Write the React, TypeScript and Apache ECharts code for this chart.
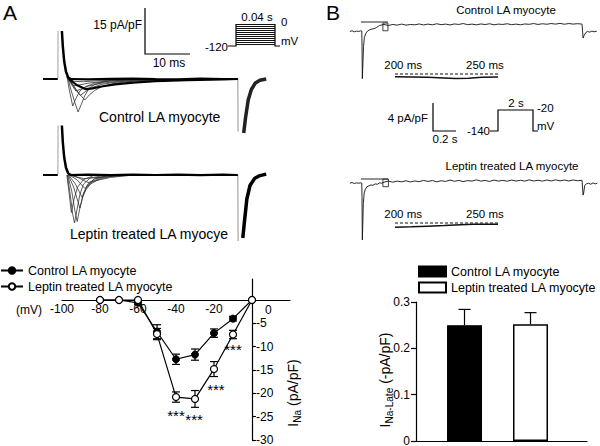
import React, { useEffect, useRef } from 'react';
import * as echarts from 'echarts';

const FONT = '"Liberation Sans", Arial, Helvetica, sans-serif';

// ---------- Panel A, bottom: I-V relation ----------
const ivVoltages = [-80, -70, -60, -50, -40, -30, -20, -10, 0];
const ivControl = [0, 0, -0.6, -6.8, -12.7, -11.7, -7.1, -4.0, 0];
const ivControlErr = [0, 0, 0.4, 1.5, 1.1, 1.2, 0.9, 0.5, 0];
const ivLeptin = [0, 0, 0, -7.3, -20.8, -21.2, -14.8, -7.4, 0];
const ivLeptinErr = [0, 0, 0, 1.2, 1.1, 1.8, 1.6, 0.9, 0];
const ivYTicks = [0, -5, -10, -15, -20, -25, -30];
const starPoints = [[-10, -10.7], [-19, -19.1], [-40, -24.8], [-30.5, -25.7]];

// ---------- Panel B, bottom: late sodium current ----------
const lateGroups = ['Control LA myocyte ', 'Leptin treated LA myocyte '];
const lateMean = [0.25, 0.252];
const lateErr = [0.034, 0.025];

// ---------- Panel A traces (t in ms, I in pA/pF) ----------
const ctrlBase = [[0, 0], [3.3, 0]];
const ctrlCap = [[3.3, 0], [3.35, 16]];
const ctrlDecay = [[4.2, 16], [4.4, 11], [4.7, 6], [5.1, 2.5], [5.6, 0.5], [6.2, 0]];
const ctrlFamily = [
  [[5.4, 1], [6.2, -3.5], [7.0, -7.5], [7.8, -11], [8.5, -8.5], [9.3, -5.5], [10.2, -3.2], [11.5, -1.8], [14, -0.8], [18, -0.3], [25, -0.1]],
  [[5.3, 1], [5.9, -4], [6.6, -9], [7.3, -6.5], [8.2, -4], [9.5, -2.5], [11.5, -1.4], [15, -0.6], [22, -0.2]],
  [[5.5, 0.5], [6.5, -1.5], [7.8, -4.5], [9.3, -7], [10.3, -5.3], [11.5, -3.8], [13, -2.6], [16, -1.4], [20, -0.7], [28, -0.2]],
  [[5.5, 0.3], [6.8, -2.5], [8.3, -5.5], [9.4, -4.2], [11, -2.8], [13, -1.8], [17, -0.9], [24, -0.3]],
  [[5.5, 0.3], [6.3, -1.8], [7.3, -4], [8.4, -3.4], [10, -2.4], [13, -1.4], [18, -0.6], [26, -0.2]],
  [[5.6, 0.2], [6.8, -2.2], [8, -2], [10, -1.4], [14, -0.7], [20, -0.3]],
  [[5.7, 0], [7, -0.8], [9, -0.9], [12, -0.6], [18, -0.3]],
];
const ctrlThick = [[5.8, 0], [7.5, -2], [9.5, -3.4], [11, -3.1], [13, -2.5], [16, -1.8], [20, -1.2], [25, -0.7], [32, -0.35], [40, -0.1], [43.3, 0]];
const ctrlPlateau = [[6, 0], [10, -0.15], [15, 0.05], [20, 0.1], [25, -0.05], [30, -0.1], [35, 0.1], [40, 0], [43.3, 0]];
const ctrlTailDrop = [[43.3, 0], [43.35, -17.5]];
const ctrlTail = [[44.6, -18], [45.0, -13], [45.6, -7], [46.3, -3.5], [47.2, -1.3], [48.2, -0.4], [49.6, 0]];

const lepBase = [[0, 0], [3.3, 0]];
const lepCap = [[3.3, 0], [3.35, 16.5]];
const lepDecay = [[4.2, 16.5], [4.4, 11], [4.7, 6], [5.1, 2.5], [5.6, 0.5], [6.2, 0]];
const lepFamily = [
  [[5.4, 0], [6.0, -6], [6.6, -13], [7.0, -16], [7.5, -12], [8.2, -6.5], [9, -3], [10.5, -1], [13, -0.3]],
  [[5.5, 0], [6.4, -5.5], [7.1, -12], [7.6, -15.5], [8.2, -11], [9, -6], [10, -3], [11.5, -1.2], [14, -0.3]],
  [[5.3, 0], [5.8, -6], [6.3, -12.5], [6.9, -8], [7.7, -4], [9, -1.5], [11, -0.4]],
  [[5.6, 0], [6.8, -4], [7.6, -8], [8.2, -11], [8.9, -7], [9.8, -3.5], [11.5, -1.3], [14, -0.4]],
  [[5.7, 0], [7.2, -3], [8.7, -7.5], [9.6, -4.8], [11, -2.2], [13, -0.8], [16, -0.2]],
  [[5.8, 0], [7.5, -1.5], [9.3, -4.5], [10.5, -3], [12.5, -1.4], [15, -0.5], [18, -0.1]],
  [[6, 0], [8, -1], [10, -2.5], [12, -1.8], [15, -0.8], [19, -0.2]],
  [[6, 0], [9, -1.2], [13, -0.7], [18, -0.2]],
];
const lepPlateau = [[6, 0], [10, 0.1], [15, -0.05], [20, 0.1], [25, 0], [30, 0.1], [35, -0.05], [40, 0.1], [43.3, 0]];
const lepTailDrop = [[43.3, 0], [43.35, -22]];
const lepTail = [[44.4, -21], [44.8, -15], [45.3, -8], [46, -3.5], [47, -1.2], [48, -0.3], [49.6, 0.3]];

// ---------- Panel B traces (t in s, I in pA/pF) ----------
const bCtrlTrace = [
  [0.09, -1.35], [0.11, -1.25], [0.13, -1.4], [0.15, -1.3], [0.17, -1.35], [0.19, -1.25], [0.198, -1.3],
  [0.2, -3], [0.203, -8.1], [0.208, -6], [0.214, -3.5], [0.222, -2.2], [0.235, -1.6], [0.25, -1.3], [0.27, -1.1],
  [0.29, -1.0], [0.31, -0.95], [0.33, -0.8], [0.35, -0.6],
  [0.36, -0.5], [0.40, -0.35], [0.44, -0.5], [0.48, -0.35], [0.52, -0.45], [0.56, -0.3], [0.60, -0.45], [0.64, -0.35],
  [0.68, -0.4], [0.72, -0.28], [0.76, -0.42], [0.80, -0.3], [0.84, -0.4], [0.88, -0.25], [0.92, -0.38], [0.96, -0.3],
  [1.00, -0.42], [1.04, -0.28], [1.08, -0.35], [1.12, -0.22], [1.16, -0.38], [1.20, -0.3], [1.24, -0.4], [1.28, -0.28],
  [1.32, -0.36], [1.36, -0.25], [1.40, -0.4], [1.44, -0.3], [1.48, -0.35], [1.52, -0.25], [1.56, -0.38], [1.60, -0.3],
  [1.64, -0.4], [1.68, -0.28], [1.72, -0.33], [1.76, -0.22], [1.80, -0.35], [1.84, -0.25], [1.88, -0.32], [1.92, -0.22],
  [1.96, -0.3], [2.00, -0.2], [2.04, -0.32], [2.08, -0.22], [2.12, -0.3], [2.16, -0.24], [2.20, -0.3], [2.205, -0.3],
  [2.21, -2.3], [2.22, -1.9], [2.235, -1.5], [2.25, -1.35], [2.27, -1.45], [2.29, -1.3], [2.31, -1.4], [2.335, -1.3],
];
const bLepTrace = [
  [0.09, -0.6], [0.11, -0.5], [0.13, -0.65], [0.15, -0.55], [0.17, -0.6], [0.19, -0.55], [0.198, -0.6],
  [0.2, -2.5], [0.203, -8.7], [0.207, -6.5], [0.212, -3.5], [0.22, -2], [0.23, -1.5], [0.245, -1.1], [0.26, -1.0],
  [0.28, -0.85], [0.3, -0.9], [0.32, -0.7], [0.34, -0.75], [0.36, -0.55], [0.38, -0.6], [0.40, -0.45],
  [0.44, -0.3], [0.48, -0.45], [0.52, -0.3], [0.56, -0.4], [0.60, -0.25], [0.64, -0.42], [0.68, -0.28], [0.72, -0.38],
  [0.76, -0.2], [0.80, -0.35], [0.84, -0.22], [0.88, -0.4], [0.92, -0.25], [0.96, -0.35], [1.00, -0.15], [1.04, -0.33],
  [1.08, -0.2], [1.12, -0.38], [1.16, -0.22], [1.20, -0.3], [1.24, -0.12], [1.28, -0.3], [1.32, -0.2], [1.36, -0.35],
  [1.40, -0.15], [1.44, -0.3], [1.48, -0.2], [1.52, -0.32], [1.56, -0.15], [1.60, -0.3], [1.64, -0.18], [1.68, -0.3],
  [1.72, -0.12], [1.76, -0.28], [1.80, -0.18], [1.84, -0.3], [1.88, -0.15], [1.92, -0.28], [1.96, -0.12], [2.00, -0.26],
  [2.04, -0.15], [2.08, -0.28], [2.12, -0.14], [2.16, -0.25], [2.20, -0.18], [2.205, -0.2],
  [2.21, -2.3], [2.215, -2.0], [2.225, -0.9], [2.24, -0.7], [2.26, -0.6], [2.28, -0.75], [2.30, -0.55], [2.32, -0.7], [2.34, -0.6],
];
const bZeroLine = [[0.19, 0], [0.436, 0]];
const bCtrlBox = [[0.39, -0.15], [0.436, -0.15], [0.436, -1.25], [0.39, -1.25], [0.39, -0.15]];
const bLepBox = [[0.39, 0], [0.44, 0], [0.44, -1.1], [0.39, -1.1], [0.39, 0]];

// insets (t in ms)
const insetTicks = [200, 250];
const insetZero = [[195, 0], [258, 0]];
const insetCtrl = [[195, -0.28], [205, -0.3], [215, -0.33], [225, -0.4], [232, -0.45], [240, -0.42], [248, -0.33], [258, -0.3]];
const insetLep = [[195, -0.42], [205, -0.38], [215, -0.32], [225, -0.26], [235, -0.18], [243, -0.12], [250, -0.12], [258, -0.12]];

const BLACK = '#000';

function trace(data: number[][], gi: number, color: string, width: number, z = 2, type: any = 'solid') {
  return {
    type: 'line', xAxisIndex: gi, yAxisIndex: gi, data, symbol: 'none', showSymbol: false,
    lineStyle: { color, width, type }, clip: false, silent: true, z,
  };
}

function errBarSeries(values: number[], errs: number[], gi: number, capHalf: number, both: boolean, xs: number[]) {
  return {
    type: 'custom', xAxisIndex: gi, yAxisIndex: gi, z: 2, silent: true, clip: false,
    data: xs.map((x, i) => [x, values[i], errs[i]]).filter((d) => d[2] > 0),
    renderItem: (_p: any, api: any) => {
      const x = api.value(0), y = api.value(1), e = api.value(2);
      const hi = api.coord([x, y + e]);
      const lo = api.coord([x, both ? y - e : y]);
      const st = { stroke: BLACK, lineWidth: 1.2 };
      const children: any[] = [
        { type: 'line', shape: { x1: lo[0], y1: lo[1], x2: hi[0], y2: hi[1] }, style: st },
        { type: 'line', shape: { x1: hi[0] - capHalf, y1: hi[1], x2: hi[0] + capHalf, y2: hi[1] }, style: st },
      ];
      if (both) children.push({ type: 'line', shape: { x1: lo[0] - capHalf, y1: lo[1], x2: lo[0] + capHalf, y2: lo[1] }, style: st });
      return { type: 'group', children };
    },
  };
}

function txt(text: string, x: number, y: number, size: number, align = 'left', extra: any = {}) {
  return {
    type: 'text', x, y, silent: true, ...extra,
    style: { text, fontSize: size, fontFamily: FONT, fill: BLACK, align, verticalAlign: 'middle' },
  };
}
function pl(points: number[][], width = 1.2) {
  return { type: 'polyline', silent: true, shape: { points }, style: { stroke: BLACK, lineWidth: width, fill: null } };
}

export default function App() {
  const ref = useRef<HTMLDivElement>(null);
  useEffect(() => {
    document.body.style.margin = '0';
    const chart = echarts.init(ref.current!, null, { renderer: 'svg' });

    const hiddenX = (gi: number, min: number, max: number) => ({ gridIndex: gi, type: 'value', min, max, show: false });
    const hiddenY = (gi: number, min: number, max: number) => ({ gridIndex: gi, type: 'value', min, max, show: false });
    const axisLineStyle = { color: BLACK, width: 1.2 };

    // protocol box stripes in panel A
    const stripes: any[] = [];
    for (let y = 24; y <= 44; y += 2) stripes.push({ type: 'line', silent: true, shape: { x1: 236, y1: y + 0.5, x2: 275, y2: y + 0.5 }, style: { stroke: '#111', lineWidth: 1 } });

    const richName = (main: string, sub: string, rest: string, size: number) => ({
      text: `{a|${main}}{b|${sub}}{a|${rest}}`,
      fontFamily: FONT, fill: BLACK, align: 'center', verticalAlign: 'middle',
      rich: {
        a: { fontSize: size, fontFamily: FONT, lineHeight: size + 4, fill: BLACK },
        b: { fontSize: size * 0.72, fontFamily: FONT, lineHeight: size * 0.72, verticalAlign: 'bottom', fill: BLACK },
      },
    });

    const option: any = {
      animation: false,
      backgroundColor: '#fff',
      textStyle: { fontFamily: FONT },
      grid: [
        { left: 43, top: 28, width: 225, height: 105, outerBoundsMode: 'none', containLabel: false },
        { left: 43, top: 124, width: 225, height: 120, outerBoundsMode: 'none', containLabel: false },
        { left: 62, top: 279, width: 228, height: 161, outerBoundsMode: 'none', containLabel: false },
        { left: 340, top: 8, width: 264, height: 77, outerBoundsMode: 'none', containLabel: false },
        { left: 340, top: 165, width: 264, height: 77, outerBoundsMode: 'none', containLabel: false },
        { left: 395, top: 72, width: 103, height: 10, outerBoundsMode: 'none', containLabel: false },
        { left: 395, top: 221, width: 103, height: 10, outerBoundsMode: 'none', containLabel: false },
        { left: 416, top: 302, width: 171, height: 139, outerBoundsMode: 'none', containLabel: false },
      ],
      xAxis: [
        hiddenX(0, 0, 50),
        hiddenX(1, 0, 50),
        {
          gridIndex: 2, type: 'value', min: -100, max: 20, interval: 20, position: 'bottom', offset: -140,
          axisLine: { show: true, onZero: false, lineStyle: axisLineStyle },
          axisTick: { show: false }, splitLine: { show: false },
          axisLabel: { margin: 3, fontSize: 12, color: BLACK, fontFamily: FONT, formatter: (v: number) => (v >= 0 ? '' : String(v)) },
        },
        hiddenX(3, 0, 2.4),
        hiddenX(4, 0, 2.4),
        {
          gridIndex: 5, type: 'value', min: 195, max: 258, position: 'top',
          axisLine: { show: false, onZero: false }, axisTick: { show: false }, splitLine: { show: false },
          axisLabel: { customValues: insetTicks, margin: 1, fontSize: 11.5, color: BLACK, fontFamily: FONT, formatter: '{value} ms' },
        },
        {
          gridIndex: 6, type: 'value', min: 195, max: 258, position: 'top',
          axisLine: { show: false, onZero: false }, axisTick: { show: false }, splitLine: { show: false },
          axisLabel: { customValues: insetTicks, margin: 1, fontSize: 11.5, color: BLACK, fontFamily: FONT, formatter: '{value} ms' },
        },
        {
          gridIndex: 7, type: 'value', min: 0.265, max: 2.856,
          axisLine: { show: true, onZero: false, lineStyle: axisLineStyle },
          axisTick: { show: false }, axisLabel: { show: false }, splitLine: { show: false },
        },
      ],
      yAxis: [
        hiddenY(0, -18, 17),
        hiddenY(1, -23, 17),
        {
          gridIndex: 2, type: 'value', min: -30, max: 4.5, position: 'right', offset: -38,
          axisLine: { show: true, onZero: false, lineStyle: axisLineStyle },
          axisTick: { show: true, customValues: ivYTicks, length: 4, lineStyle: axisLineStyle },
          splitLine: { show: false },
          axisLabel: {
            customValues: ivYTicks, margin: 4, fontSize: 12, color: BLACK, fontFamily: FONT,
            formatter: (v: number) => (v === 0 ? '' : String(v)),
          },
        },
        hiddenY(3, -9, 2),
        hiddenY(4, -9, 2),
        hiddenY(5, -0.8, 0.2),
        hiddenY(6, -0.8, 0.2),
        {
          gridIndex: 7, type: 'value', min: 0, max: 0.3, interval: 0.1,
          axisLine: { show: true, onZero: false, lineStyle: axisLineStyle },
          axisTick: { show: true, length: 5, lineStyle: axisLineStyle },
          splitLine: { show: false },
          axisLabel: { margin: 6, fontSize: 12, color: BLACK, fontFamily: FONT, formatter: (v: number) => (v === 0 ? '0' : v.toFixed(1)) },
        },
      ],
      legend: [
        {
          left: 0, top: 264, orient: 'vertical', itemWidth: 22, itemHeight: 8, itemGap: 3, padding: 0,
          selectedMode: false, data: ['Control LA myocyte', 'Leptin treated LA myocyte'],
          textStyle: { fontSize: 12.5, color: BLACK, fontFamily: FONT },
        },
        {
          left: 418, top: 265, orient: 'vertical', itemWidth: 27, itemHeight: 10, itemGap: 3, padding: 0, icon: 'rect',
          selectedMode: false, data: lateGroups,
          textStyle: { fontSize: 12.5, color: BLACK, fontFamily: FONT },
        },
      ],
      series: [
        // Panel A control traces
        trace(ctrlBase, 0, BLACK, 2),
        trace(ctrlCap, 0, '#888', 0.8),
        ...ctrlFamily.map((d) => trace(d, 0, '#333', 0.8)),
        trace(ctrlThick, 0, BLACK, 2.2, 3),
        trace(ctrlPlateau, 0, BLACK, 2.2, 3),
        trace(ctrlDecay, 0, BLACK, 2.5, 3),
        trace(ctrlTailDrop, 0, '#777', 0.8),
        trace(ctrlTail, 0, '#222', 3.5, 3),
        // Panel A leptin traces
        trace(lepBase, 1, BLACK, 2),
        trace(lepCap, 1, '#888', 0.8),
        ...lepFamily.map((d) => trace(d, 1, '#333', 0.8)),
        trace(lepPlateau, 1, BLACK, 2.2, 3),
        trace(lepDecay, 1, BLACK, 2.5, 3),
        trace(lepTailDrop, 1, '#777', 0.8),
        trace(lepTail, 1, BLACK, 3.5, 3),
        // Panel B traces
        trace(bCtrlTrace, 3, '#111', 0.9),
        trace(bZeroLine, 3, '#111', 0.9),
        trace(bCtrlBox, 3, '#111', 0.8),
        trace(bLepTrace, 4, '#111', 0.9),
        trace(bZeroLine, 4, '#111', 0.9),
        trace(bLepBox, 4, '#111', 0.8),
        trace(insetZero, 5, '#111', 1.2, 2, [3, 2]),
        trace(insetCtrl, 5, '#111', 1.5),
        trace(insetZero, 6, '#111', 1.2, 2, [3, 2]),
        trace(insetLep, 6, '#111', 1.5),
        // I-V
        errBarSeries(ivControl, ivControlErr, 2, 4, true, ivVoltages),
        errBarSeries(ivLeptin, ivLeptinErr, 2, 4, true, ivVoltages),
        {
          type: 'line', name: 'Control LA myocyte', xAxisIndex: 2, yAxisIndex: 2, z: 3,
          data: ivVoltages.map((v, i) => [v, ivControl[i]]),
          symbol: 'circle', symbolSize: 7,
          itemStyle: { color: BLACK, borderColor: BLACK, borderWidth: 1 },
          lineStyle: { color: BLACK, width: 1.2 },
        },
        {
          type: 'line', name: 'Leptin treated LA myocyte', xAxisIndex: 2, yAxisIndex: 2, z: 4,
          data: ivVoltages.map((v, i) => [v, ivLeptin[i]]),
          symbol: 'circle', symbolSize: 7,
          itemStyle: { color: '#fff', borderColor: BLACK, borderWidth: 1.2 },
          lineStyle: { color: BLACK, width: 1.2 },
        },
        {
          type: 'scatter', xAxisIndex: 2, yAxisIndex: 2, data: starPoints, symbolSize: 1, silent: true, z: 5,
          itemStyle: { color: '#fff', opacity: 1 },
          label: {
            show: true, position: 'top', distance: -8, formatter: '***', fontSize: 15, color: '#000', fontFamily: FONT,
            textBorderWidth: 0,
          },
        },
        // Late current bars
        {
          type: 'bar', name: lateGroups[0], xAxisIndex: 7, yAxisIndex: 7, barWidth: 35, barGap: '-100%',
          data: [[1, lateMean[0]]], itemStyle: { color: BLACK, borderColor: BLACK, borderWidth: 1.2 },
        },
        {
          type: 'bar', name: lateGroups[1], xAxisIndex: 7, yAxisIndex: 7, barWidth: 35, barGap: '-100%',
          data: [[2, lateMean[1]]], itemStyle: { color: '#fff', borderColor: BLACK, borderWidth: 1.5 },
        },
        errBarSeries(lateMean, lateErr, 7, 6, false, [1, 2]),
      ],
      graphic: [
        txt('A', 3, 12, 21),
        txt('B', 326, 12, 21),
        // panel A scale bar
        pl([[145, 8], [145, 54], [190, 54]]),
        txt('15 pA/pF', 142, 25, 12, 'right'),
        txt('10 ms', 169, 63, 12, 'center'),
        // panel A voltage protocol
        pl([[228, 46], [236, 46], [236, 24]]),
        pl([[275, 24], [275, 46], [280, 46]]),
        ...stripes,
        txt('0.04 s', 257, 17, 11.5, 'center'),
        txt('0', 281, 22, 11.5),
        txt('mV', 281, 41, 11.5),
        txt('-120', 228, 47, 11.5, 'right'),
        txt('Control LA myocyte', 99, 117, 14),
        txt('Leptin treated LA myocye', 70, 234, 14),
        // I-V annotations
        txt('(mV)', 16, 310, 12),
        txt('0', 265, 310, 12),
        { type: 'text', x: 293, y: 393, rotation: Math.PI / 2, silent: true, style: richName('I', 'Na', ' (pA/pF)', 14) },
        // panel B
        txt('Control LA myocyte', 506, 10, 11.5, 'center'),
        txt('Leptin treated LA myocyte', 512, 166, 11.5, 'center'),
        pl([[433, 103], [433, 131], [456, 131]]),
        txt('4 pA/pF', 428, 118, 11.5, 'right'),
        txt('0.2 s', 445, 139, 11.5, 'center'),
        pl([[490, 131], [498, 131], [498, 110], [533, 110], [533, 131], [538, 131]]),
        txt('-140', 490, 131, 11.5, 'right'),
        txt('2 s', 516, 103, 11.5, 'center'),
        txt('-20', 537, 108, 11.5),
        txt('mV', 537, 126, 11.5),
        { type: 'text', x: 385, y: 380, rotation: Math.PI / 2, silent: true, style: richName('I', 'Na-Late', ' (-pA/pF)', 14) },
      ],
    };
    chart.setOption(option);
    return () => chart.dispose();
  }, []);
  return <div ref={ref} style={{ position: 'fixed', left: 0, top: 0, width: 600, height: 446, background: '#fff' }} />;
}
